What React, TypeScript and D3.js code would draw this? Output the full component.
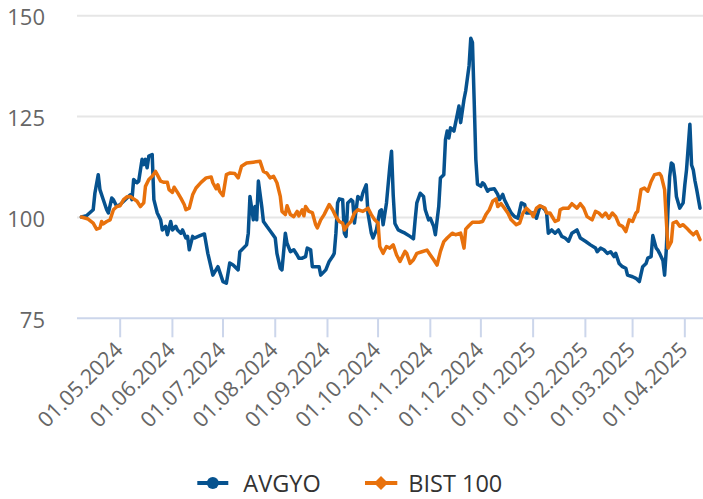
import React from "react";
import * as d3 from "d3";

// ---- Data ----
const seriesNames = ["AVGYO", "BIST 100"];
const seriesColors = ["#06528f", "#e8710c"];

const avgyoDates = [
  "2024-04-08","2024-04-11","2024-04-15","2024-04-16","2024-04-18","2024-04-19","2024-04-21","2024-04-23","2024-04-24","2024-04-26",
  "2024-04-27","2024-04-29","2024-05-01","2024-05-04","2024-05-07","2024-05-08","2024-05-09","2024-05-11","2024-05-12","2024-05-14",
  "2024-05-15","2024-05-16","2024-05-17","2024-05-18","2024-05-20","2024-05-21","2024-05-23","2024-05-25","2024-05-26","2024-05-28",
  "2024-05-29","2024-05-31","2024-06-01","2024-06-03","2024-06-04","2024-06-06","2024-06-07","2024-06-09","2024-06-10","2024-06-11",
  "2024-06-13","2024-06-14","2024-06-17","2024-06-20","2024-06-22","2024-06-25","2024-06-28","2024-07-01","2024-07-03","2024-07-05",
  "2024-07-07","2024-07-10","2024-07-11","2024-07-15","2024-07-16","2024-07-17","2024-07-19","2024-07-20","2024-07-21","2024-07-22",
  "2024-07-24","2024-07-25","2024-07-27","2024-07-30","2024-08-01","2024-08-02","2024-08-04","2024-08-05","2024-08-07","2024-08-08",
  "2024-08-10","2024-08-12","2024-08-14","2024-08-15","2024-08-17","2024-08-19","2024-08-20","2024-08-22","2024-08-23","2024-08-25",
  "2024-08-27","2024-08-28","2024-08-31","2024-09-02","2024-09-04","2024-09-05","2024-09-06","2024-09-07","2024-09-08","2024-09-10",
  "2024-09-11","2024-09-12","2024-09-13","2024-09-15","2024-09-16","2024-09-17","2024-09-19","2024-09-21","2024-09-22","2024-09-24",
  "2024-09-25","2024-09-27","2024-09-28","2024-09-30","2024-10-02","2024-10-03","2024-10-04","2024-10-06","2024-10-08","2024-10-09",
  "2024-10-10","2024-10-11","2024-10-13","2024-10-15","2024-10-17","2024-10-20","2024-10-22","2024-10-23","2024-10-24","2024-10-26",
  "2024-10-28","2024-10-29","2024-10-31","2024-11-01","2024-11-03","2024-11-04","2024-11-06","2024-11-07","2024-11-09","2024-11-10",
  "2024-11-11","2024-11-12","2024-11-13","2024-11-15","2024-11-17","2024-11-18","2024-11-19","2024-11-21","2024-11-22","2024-11-24",
  "2024-11-25","2024-11-26","2024-11-27","2024-11-28","2024-11-29","2024-12-01","2024-12-02","2024-12-03","2024-12-05","2024-12-06",
  "2024-12-09","2024-12-11","2024-12-12","2024-12-14","2024-12-15","2024-12-17","2024-12-19","2024-12-21","2024-12-23","2024-12-25",
  "2024-12-27","2024-12-28","2024-12-30","2025-01-01","2025-01-03","2025-01-05","2025-01-06","2025-01-08","2025-01-09","2025-01-10",
  "2025-01-12","2025-01-14","2025-01-16","2025-01-18","2025-01-20","2025-01-22","2025-01-24","2025-01-27","2025-01-29","2025-02-01",
  "2025-02-04","2025-02-07","2025-02-08","2025-02-10","2025-02-12","2025-02-14","2025-02-16","2025-02-18","2025-02-19","2025-02-21",
  "2025-02-23","2025-02-25","2025-02-26","2025-03-01","2025-03-03","2025-03-05","2025-03-07","2025-03-09","2025-03-10","2025-03-12",
  "2025-03-13","2025-03-15","2025-03-16","2025-03-17","2025-03-19","2025-03-20","2025-03-21","2025-03-22","2025-03-23","2025-03-24",
  "2025-03-25","2025-03-26","2025-03-27","2025-03-29","2025-03-31","2025-04-01","2025-04-02","2025-04-04","2025-04-05","2025-04-06",
  "2025-04-07","2025-04-08","2025-04-10"
];
const avgyoValues = [
  100.1,100.4,101.9,106,110.6,106.9,104.4,101.9,101.1,104.8,
  104.4,102.7,103.2,104.4,105.6,104.4,109.4,108.6,109,114.4,
  113.1,114.4,112.3,115.2,115.6,104.4,101.1,99.4,96.9,97.8,
  95.7,99,96.9,97.8,96.9,96.1,96.9,94.9,95.3,92,
  95.3,94.9,95.4,95.9,91.1,85.7,87.8,84.1,83.7,88.7,
  88.2,87,91.5,93.2,96.1,105.2,99.4,102.7,99.4,109,
  102.7,99,97.8,96.1,94.9,91.1,87.4,87,96.1,93.6,
  91.5,92,90.7,89.9,89.9,90.3,92.4,92,87.8,87.8,
  87.8,85.7,87,89.1,90.3,91.1,96.1,103.6,104.6,104.4,
  96.1,95.3,103.6,104.4,104,98.6,105.2,104.4,106.1,108.1,
  101.1,96.1,94.9,96.9,101.5,101.9,98.2,103.6,112.7,116.4,
  105.5,98.5,96.9,96.5,96.1,95.3,94.7,99.4,103.6,106,
  105.2,101.9,99.4,99.8,97.8,95.7,102.7,109.8,110.6,119.3,
  121.4,119.7,122.2,121.4,125.5,127.6,123.5,129.3,131.4,137.6,
  144.4,143.4,129.3,114.4,108.2,107.7,108.6,108.2,106.5,106.9,
  107.1,105.7,104.4,105.7,104.4,102.7,101.1,100.2,99.8,103.6,
  103.2,101.1,101.1,101.1,99.8,102.7,102.7,101.9,101.1,96.1,
  96.9,96.1,96.9,95.3,94.9,94.1,96.1,96.9,94.9,94.1,
  93.2,92.4,91.5,92.4,92,91.1,91.5,90.3,91.1,88.6,
  87.8,87.4,85.7,85.3,84.9,84.1,87.8,88.6,89.9,90.3,
  95.5,92.4,91.9,91.1,89.3,85.7,92,101.9,110.1,113.5,
  113.1,110.1,105.2,102.3,103.6,108.1,111.8,123.1,113,111.8,
  109.1,107,102.3
];

const bistDates = [
  "2024-04-08","2024-04-12","2024-04-15","2024-04-17","2024-04-19","2024-04-20","2024-04-21","2024-04-23","2024-04-25","2024-04-27",
  "2024-04-29","2024-05-01","2024-05-03","2024-05-05","2024-05-07","2024-05-09","2024-05-11","2024-05-13","2024-05-15","2024-05-16",
  "2024-05-18","2024-05-20","2024-05-22","2024-05-23","2024-05-25","2024-05-27","2024-05-29","2024-05-30","2024-06-01","2024-06-02",
  "2024-06-04","2024-06-06","2024-06-08","2024-06-09","2024-06-11","2024-06-13","2024-06-15","2024-06-18","2024-06-21","2024-06-24",
  "2024-06-25","2024-06-27","2024-06-28","2024-06-29","2024-07-01","2024-07-03","2024-07-05","2024-07-08","2024-07-10","2024-07-12",
  "2024-07-15","2024-07-19","2024-07-23","2024-07-25","2024-07-27","2024-07-29","2024-07-31","2024-08-02","2024-08-04","2024-08-05",
  "2024-08-07","2024-08-08","2024-08-10","2024-08-12","2024-08-14","2024-08-15","2024-08-17","2024-08-18","2024-08-19","2024-08-21",
  "2024-08-23","2024-08-25","2024-08-26","2024-08-28","2024-08-30","2024-09-02","2024-09-04","2024-09-06","2024-09-08","2024-09-10",
  "2024-09-11","2024-09-13","2024-09-15","2024-09-17","2024-09-19","2024-09-22","2024-09-25","2024-09-27","2024-09-29","2024-10-01",
  "2024-10-02","2024-10-04","2024-10-06","2024-10-08","2024-10-10","2024-10-12","2024-10-14","2024-10-17","2024-10-18","2024-10-20",
  "2024-10-22","2024-10-24","2024-10-27","2024-10-30","2024-11-01","2024-11-03","2024-11-05","2024-11-07","2024-11-09","2024-11-11",
  "2024-11-14","2024-11-16","2024-11-19","2024-11-21","2024-11-22","2024-11-24","2024-11-26","2024-11-30","2024-12-02","2024-12-04",
  "2024-12-06","2024-12-08","2024-12-10","2024-12-11","2024-12-13","2024-12-15","2024-12-17","2024-12-19","2024-12-22","2024-12-24",
  "2024-12-26","2024-12-28","2024-12-31","2025-01-01","2025-01-03","2025-01-05","2025-01-08","2025-01-09","2025-01-11","2025-01-14",
  "2025-01-16","2025-01-17","2025-01-19","2025-01-22","2025-01-24","2025-01-27","2025-01-29","2025-01-31","2025-02-02","2025-02-05",
  "2025-02-07","2025-02-09","2025-02-11","2025-02-13","2025-02-15","2025-02-17","2025-02-19","2025-02-21","2025-02-23","2025-02-25",
  "2025-02-27","2025-03-01","2025-03-03","2025-03-04","2025-03-06","2025-03-08","2025-03-10","2025-03-12","2025-03-14","2025-03-17",
  "2025-03-18","2025-03-20","2025-03-21","2025-03-22","2025-03-24","2025-03-25","2025-03-27","2025-03-29","2025-03-31","2025-04-02",
  "2025-04-04","2025-04-06","2025-04-08","2025-04-10"
];
const bistValues = [
  100.1,99.6,98.6,97.1,97.4,99,98.4,99,99.4,101.9,
  102.7,102.9,104.4,105.1,105.2,104.6,104,102.7,103.6,107.7,
  109.4,110.2,111.4,110.6,109,108.7,108.7,106.9,106.2,107.5,
  106.2,104.8,103.2,101.9,102.3,105.6,107.3,108.7,109.8,110,
  108.6,107.1,108.1,106.5,105.4,110.6,111,110.9,109.8,112.7,
  113.5,113.7,113.9,111.4,111,109.8,110.2,108.6,105.2,101.5,
  100.7,102.9,100.7,100.2,101.5,100.4,101.9,100.4,102.7,101.5,
  101.2,98.2,97.4,99.4,100.7,103.2,101.9,100.2,99,98.6,
  96.9,98.2,99,101.1,101.9,101.5,102.3,100.7,99.4,98.6,
  92.8,91.1,92.8,92.4,93.2,90.7,89.1,91.6,91.1,88.6,
  89.5,91.1,91.5,91.9,90.7,89.5,88.2,91.6,94,94.9,
  96.1,95.7,96.1,92.4,97.1,98,98.8,98.8,99,100.7,
  101.9,104,104.6,102.7,103.4,102.3,101.1,99.4,98.2,98.6,
  101.1,102.3,101.1,100.2,102.3,102.9,102.3,101.1,101.1,99,
  99.4,101.9,102.3,102.3,103.4,102.3,103.4,102.3,100.2,99.4,
  101.5,101.1,100.2,101.1,99.8,101.1,100.2,98.2,97.8,96.5,
  99.4,99,101.1,101.5,106.9,107.3,106.5,108.9,110.6,110.9,
  110.3,106.9,99.4,92.4,94,98.6,99,97.8,98.2,97.4,
  96.5,95.7,96.5,94.5
];

const yTicks = [75, 100, 125, 150];
const xDomain = ["2024-04-08", "2025-04-10"];

const W = 703;
const H = 499;
const FONT = "'Open Sans', 'Noto Sans', sans-serif";

export default function App() {
  const parse = d3.utcParse("%Y-%m-%d");
  const fmt = d3.utcFormat("%d.%m.%Y");

  const plotLeft = 77;
  const plotRight = 703;
  const plotTop = 15.7;
  const plotBottom = 318.3;

  const x = d3
    .scaleUtc()
    .domain(xDomain.map((s) => parse(s) as Date))
    .range([plotLeft + 4.4, plotRight - 3]);
  const y = d3.scaleLinear().domain([75, 150]).range([plotBottom, plotTop]);

  const series = [
    { name: seriesNames[0], color: seriesColors[0], dates: avgyoDates, values: avgyoValues },
    { name: seriesNames[1], color: seriesColors[1], dates: bistDates, values: bistValues },
  ].map((s) => ({
    ...s,
    points: s.dates.map((d, i) => ({ date: parse(d) as Date, value: s.values[i] })),
  }));

  const line = d3
    .line<{ date: Date; value: number }>()
    .x((d) => x(d.date))
    .y((d) => y(d.value))
    .curve(d3.curveLinear);

  const monthTicks = x.ticks(d3.utcMonth.every(1) as any);

  return (
    <svg
      width={W}
      height={H}
      style={{ position: "absolute", left: 0, top: 0, background: "#fff" }}
      fontFamily={FONT}
    >
      {/* grid lines */}
      {yTicks
        .filter((t) => t !== 75)
        .map((t) => (
          <line key={"g" + t} x1={plotLeft} x2={plotRight} y1={y(t)} y2={y(t)} stroke="#e6e6e6" strokeWidth={2} />
        ))}
      {/* y labels */}
      {yTicks.map((t) => (
        <text key={"yl" + t} x={45} y={y(t) + 9.5} textAnchor="end" fontSize={22} fill="#666666">
          {t}
        </text>
      ))}
      {/* x axis line */}
      <line x1={plotLeft} x2={plotRight} y1={plotBottom} y2={plotBottom} stroke="#ccd6eb" strokeWidth={2} />
      {monthTicks.map((t, i) => (
        <g key={"xt" + i}>
          <line x1={x(t)} x2={x(t)} y1={plotBottom} y2={plotBottom + 19} stroke="#ccd6eb" strokeWidth={2} />
          <text
            transform={`translate(${x(t) + 4},${plotBottom + 33}) rotate(-45)`}
            textAnchor="end"
            fontSize={21.5}
            fill="#666666"
          >
            {fmt(t)}
          </text>
        </g>
      ))}
      {/* series lines */}
      {series.map((s) => (
        <path
          key={s.name}
          d={line(s.points) || ""}
          fill="none"
          stroke={s.color}
          strokeWidth={3.5}
          strokeLinejoin="round"
          strokeLinecap="round"
        />
      ))}
      {/* legend */}
      <g>
        <line x1={197.3} x2={228.3} y1={483} y2={483} stroke={seriesColors[0]} strokeWidth={4} />
        <circle cx={212.8} cy={483} r={6} fill={seriesColors[0]} />
        <text x={243.3} y={491.5} fontSize={23.5} fill="#333333">
          {seriesNames[0]}
        </text>
        <line x1={365} x2={397.3} y1={483} y2={483} stroke={seriesColors[1]} strokeWidth={4} />
        <path d="M381,476 L388,483 L381,490 L374,483 Z" fill={seriesColors[1]} />
        <text x={408.3} y={491.5} fontSize={23.5} fill="#333333">
          {seriesNames[1]}
        </text>
      </g>
    </svg>
  );
}
